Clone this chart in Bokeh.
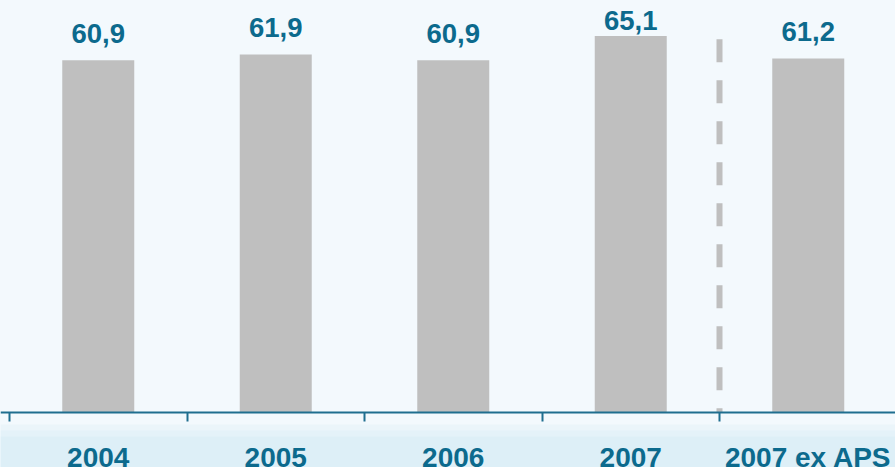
import numpy as np
from bokeh.plotting import figure
from bokeh.models import Range1d, FixedTicker, LinearAxis, BoxAnnotation, ColumnDataSource
from bokeh.embed import file_html
from bokeh.resources import INLINE

# ---- data ----
categories = ["2004", "2005", "2006", "2007", "2007 ex APS"]
values = [60.9, 61.9, 60.9, 65.1, 61.2]
value_labels = ["60,9", "61,9", "60,9", "65,1", "61,2"]

# ---- style ----
BG = "#F3F9FD"
BAR = "#BFBFBF"
TXT = "#0C6A8D"
AXIS = "#1F6E8F"
FONT = "Liberation Sans"

W, H = 895, 467
LEFT_PX = 9
PX_PER_CAT = 177.5
PX_PER_UNIT = 5.785
BASE_PX = 412  # baseline distance from frame top

x = np.arange(len(categories)) + 0.5
vals = np.array(values)

p = figure(width=W, height=H, output_backend="svg", toolbar_location=None,
           x_range=Range1d(-LEFT_PX / PX_PER_CAT, (W - LEFT_PX) / PX_PER_CAT),
           y_range=Range1d(-(H - BASE_PX) / PX_PER_UNIT, BASE_PX / PX_PER_UNIT),
           min_border=0, background_fill_color=BG, border_fill_color=BG,
           outline_line_color=None)

p.grid.visible = False
p.yaxis.visible = False

# bottom band (soft gradient)
for top, col in [(-2.07, "#EBF5FA"), (-3.11, "#E4F2F9"), (-4.15, "#DDEFF7")]:
    p.add_layout(BoxAnnotation(top=top, fill_color=col, fill_alpha=1,
                               line_color=None, level="underlay"))

# bars
src = ColumnDataSource(dict(x=x, top=vals, lab=value_labels,
                            ly=np.minimum(vals + 4.7, 67.8)))
p.vbar(x="x", top="top", bottom=0, width=72 / PX_PER_CAT, source=src,
       fill_color=BAR, line_color=None)

p.text(x="x", y="ly", text="lab", source=src, text_align="center",
       text_baseline="alphabetic", text_font_size="27.5px", text_font_style="bold",
       text_color=TXT, text_font={"value": FONT})

# dashed separator between 2007 and 2007 ex APS
sep_x = len(categories) - 1
p.segment(x0=[sep_x], y0=[64.5], x1=[sep_x], y1=[0], line_color=BAR,
          line_width=6, line_dash="23 18", line_cap="butt")

# axis with boundary ticks
ax = p.xaxis[0]
ax.fixed_location = 0
ax.ticker = FixedTicker(ticks=list(range(len(categories) + 1)))
ax.axis_line_color = AXIS
ax.axis_line_width = 2
ax.major_tick_line_color = AXIS
ax.major_tick_line_width = 2
ax.major_tick_in = 0
ax.major_tick_out = 9
ax.minor_tick_line_color = None
ax.major_label_text_font_size = "0px"
ax.major_label_text_alpha = 0

# category label axis
ax2 = LinearAxis(ticker=FixedTicker(ticks=list(x)), fixed_location=0,
                 major_label_overrides={float(xi): c for xi, c in zip(x, categories)},
                 axis_line_color=None, major_tick_line_color=None,
                 minor_tick_line_color=None, major_label_standoff=23,
                 major_label_text_font=FONT, major_label_text_font_size="28px",
                 major_label_text_font_style="bold", major_label_text_color=TXT)
p.add_layout(ax2, "below")

html = file_html(p, INLINE)
html = html.replace("<head>", "<head><style>body{background:%s;}</style>" % BG, 1)
open("out.html", "w").write(html)
